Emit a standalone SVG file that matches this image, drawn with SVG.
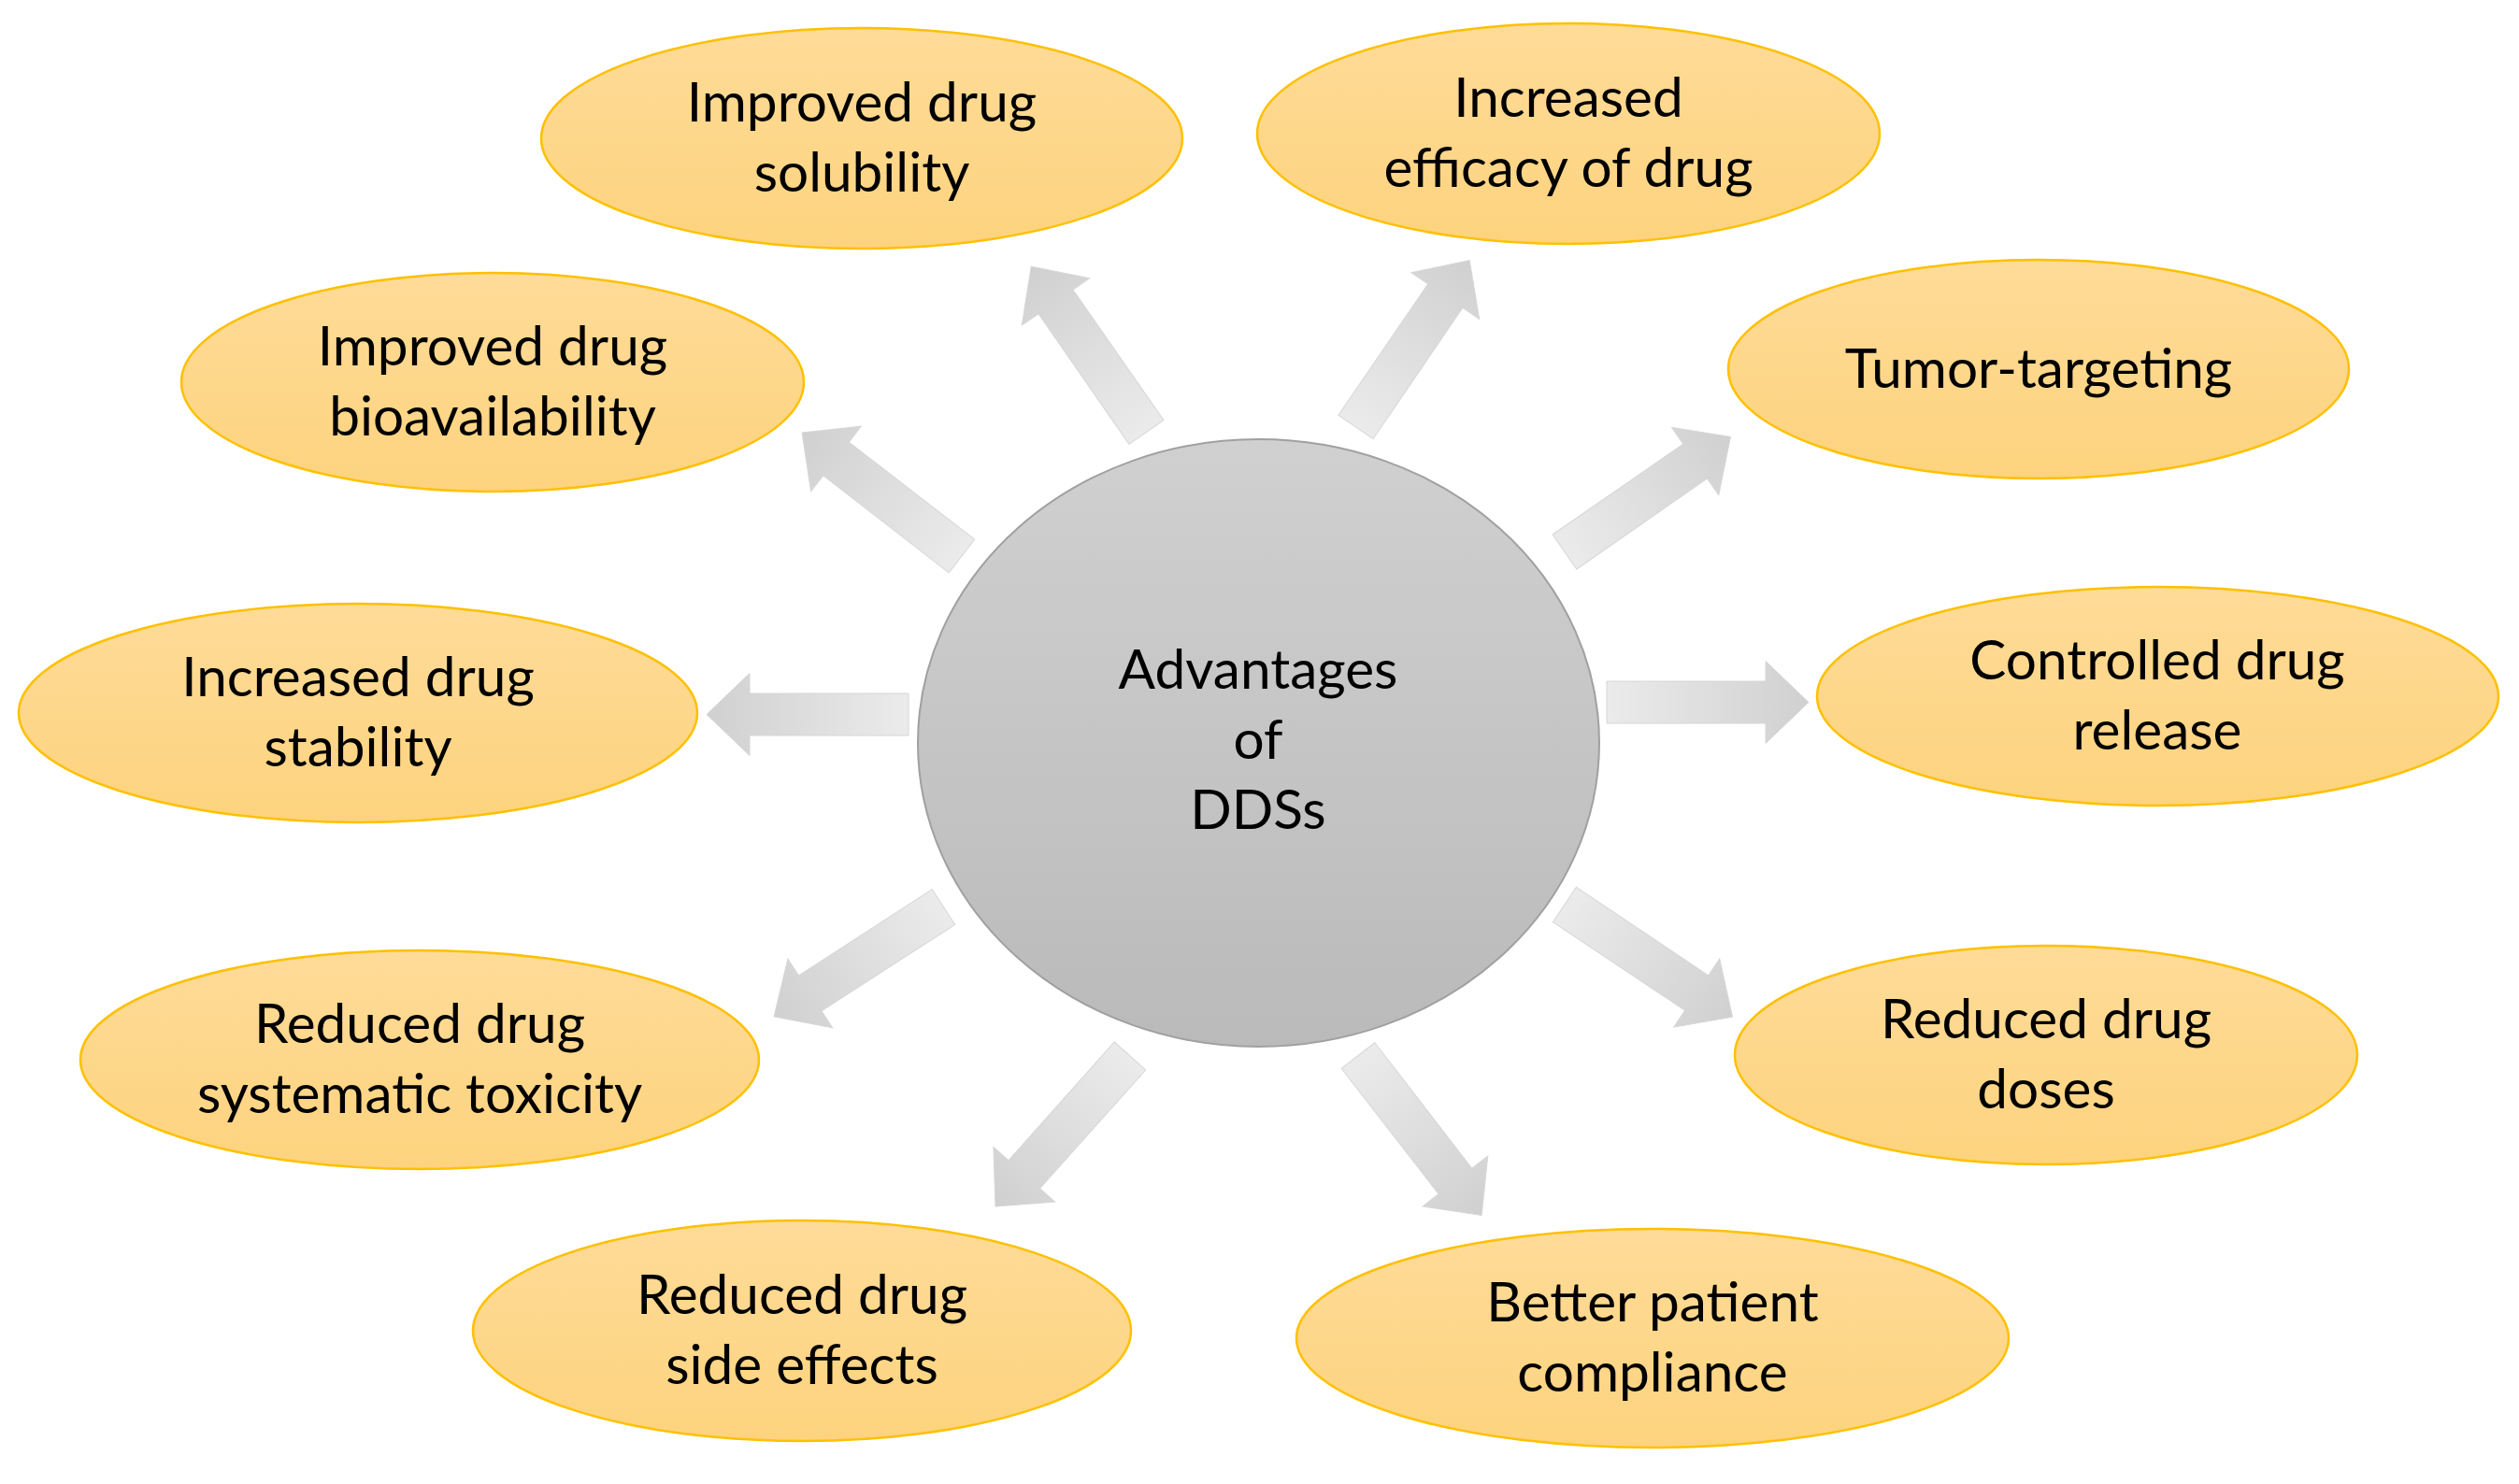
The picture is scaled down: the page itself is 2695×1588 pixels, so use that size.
<svg xmlns="http://www.w3.org/2000/svg" width="2695" height="1588" viewBox="0 0 2695 1588">
<style>
.bub{fill:url(#gOr);stroke:#ffc000;stroke-width:2.5}
.lbl{font-family:Lato,"Liberation Sans",sans-serif;font-size:58.5px;fill:#000;text-anchor:middle}
.arr{fill:url(#gAr);stroke:#d6d6d6;stroke-width:1}
</style>
<defs>
<linearGradient id="gOr" x1="0" y1="0" x2="0" y2="1">
<stop offset="0" stop-color="#fedb98"/>
<stop offset="1" stop-color="#fdd37e"/>
</linearGradient>
<linearGradient id="gGr" x1="0" y1="0" x2="0" y2="1">
<stop offset="0" stop-color="#d0d0d0"/>
<stop offset="1" stop-color="#bababa"/>
</linearGradient>
<linearGradient id="gAr" x1="0" y1="0" x2="1" y2="0">
<stop offset="0" stop-color="#ebebeb"/>
<stop offset="1" stop-color="#d0d0d0"/>
</linearGradient>
<polygon id="arw" points="0,-22.5 170,-22.5 170,-44 216,0 170,44 170,22.5 0,22.5"/>
</defs>
<rect width="2695" height="1588" fill="#fff"/>

<g id="connectors">
<use href="#arw" class="arr" transform="translate(1226.5,462.5) rotate(-124.8)"/>
<use href="#arw" class="arr" transform="translate(1450.5,457) rotate(-55.7)"/>
<use href="#arw" class="arr" transform="translate(1674,590.5) rotate(-34.75)"/>
<use href="#arw" class="arr" transform="translate(1719,751.5)"/>
<use href="#arw" class="arr" transform="translate(1674,968) rotate(33.8)"/>
<use href="#arw" class="arr" transform="translate(1453,1129.5) rotate(52.3)"/>
<use href="#arw" class="arr" transform="translate(1209,1130) rotate(131.8)"/>
<use href="#arw" class="arr" transform="translate(1009.5,970.5) rotate(147.1)"/>
<use href="#arw" class="arr" transform="translate(972,764.5) rotate(180)"/>
<use href="#arw" class="arr" transform="translate(1029,595) rotate(-142.3)"/>
</g>

<g id="center">
<ellipse cx="1346.5" cy="795" rx="364.5" ry="325" fill="url(#gGr)" stroke="#a0a0a0" stroke-width="2"/>
<text class="lbl" x="1346" y="737">Advantages</text>
<text class="lbl" x="1346" y="812">of</text>
<text class="lbl" x="1346" y="887">DDSs</text>
</g>

<g id="n-solubility">
<ellipse class="bub" cx="922" cy="148" rx="343" ry="118"/>
<text class="lbl" x="922" y="130">Improved drug</text>
<text class="lbl" x="922" y="205">solubility</text>
</g>
<g id="n-efficacy">
<ellipse class="bub" cx="1678" cy="143" rx="333" ry="118"/>
<text class="lbl" x="1678" y="125">Increased</text>
<text class="lbl" x="1678" y="200">efficacy of drug</text>
</g>
<g id="n-tumor">
<ellipse class="bub" cx="2181" cy="395" rx="332" ry="117"/>
<text class="lbl" x="2181" y="415">Tumor-targeting</text>
</g>
<g id="n-controlled">
<ellipse class="bub" cx="2308.5" cy="745" rx="364.5" ry="117"/>
<text class="lbl" x="2308" y="727">Controlled drug</text>
<text class="lbl" x="2308" y="802">release</text>
</g>
<g id="n-doses">
<ellipse class="bub" cx="2189" cy="1129" rx="333" ry="117"/>
<text class="lbl" x="2189" y="1111">Reduced drug</text>
<text class="lbl" x="2189" y="1186">doses</text>
</g>
<g id="n-compliance">
<ellipse class="bub" cx="1768" cy="1432" rx="381" ry="117"/>
<text class="lbl" x="1768" y="1414">Better patient</text>
<text class="lbl" x="1768" y="1489">compliance</text>
</g>
<g id="n-sideeffects">
<ellipse class="bub" cx="858" cy="1424" rx="352" ry="118"/>
<text class="lbl" x="858" y="1406">Reduced drug</text>
<text class="lbl" x="858" y="1481">side effects</text>
</g>
<g id="n-toxicity">
<ellipse class="bub" cx="449" cy="1134" rx="363" ry="117"/>
<text class="lbl" x="449" y="1116">Reduced drug</text>
<text class="lbl" x="449" y="1191">systematic toxicity</text>
</g>
<g id="n-stability">
<ellipse class="bub" cx="383" cy="763" rx="363" ry="117"/>
<text class="lbl" x="383" y="745">Increased drug</text>
<text class="lbl" x="383" y="820">stability</text>
</g>
<g id="n-bioavailability">
<ellipse class="bub" cx="527" cy="409" rx="333" ry="117"/>
<text class="lbl" x="527" y="391">Improved drug</text>
<text class="lbl" x="527" y="466">bioavailability</text>
</g>
</svg>
